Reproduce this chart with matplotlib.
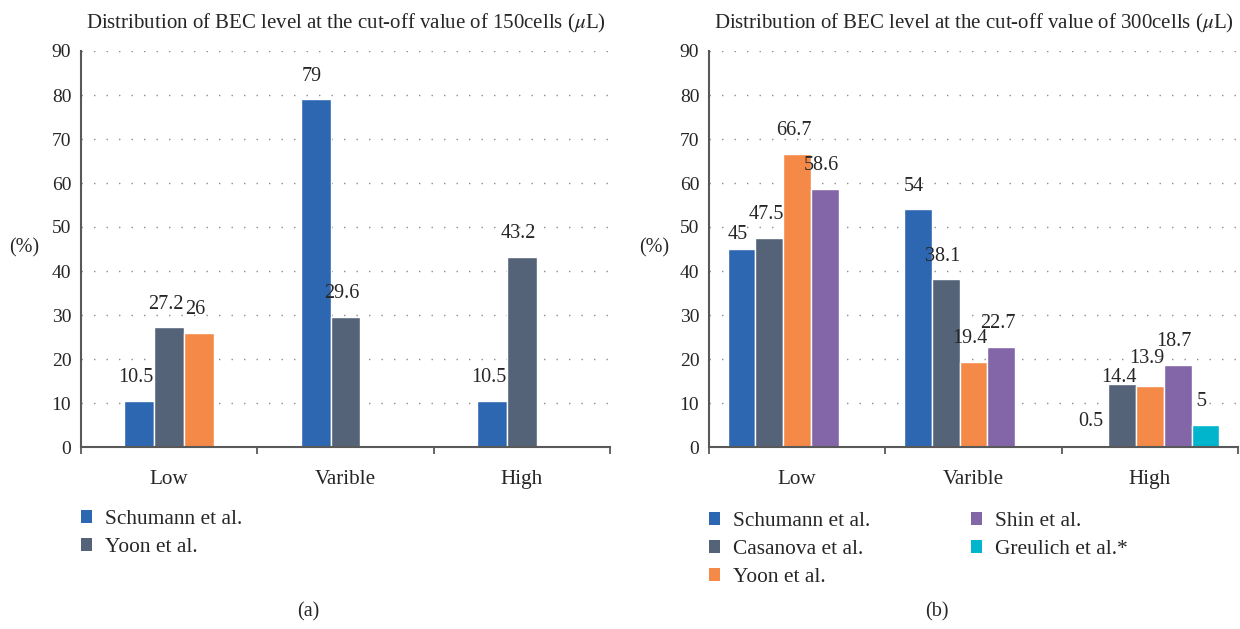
import matplotlib
matplotlib.use("Agg")
import matplotlib.pyplot as plt
from matplotlib.patches import Patch
import numpy as np

plt.rcParams['font.family'] = ['Liberation Serif', 'DejaVu Serif']
plt.rcParams['mathtext.fontset'] = 'stix'

# ---------------- data ----------------
categories = ["Low", "Varible", "High"]

left_title = "Distribution of BEC level at the cut-off value of 150cells ($\\mu$L)"
left_series = ["Schumann et al.", "Yoon et al.", "Other"]
left_values = [
    [10.5, 79, 10.5],
    [27.2, 29.6, 43.2],
    [26, None, None],
]
left_legend_count = 2

right_title = "Distribution of BEC level at the cut-off value of 300cells ($\\mu$L)"
right_series = ["Schumann et al.", "Casanova et al.", "Yoon et al.", "Shin et al.", "Greulich et al.*"]
right_values = [
    [45, 54, 0.5],
    [47.5, 38.1, 14.4],
    [66.7, 19.4, 13.9],
    [58.6, 22.7, 18.7],
    [None, None, 5],
]

colors = ["#2E67B1", "#556379", "#F58A48", "#8366A8", "#00B5CC"]
yticks = list(range(0, 91, 10))

# label nudges (style only): (series index, category index) -> extra vertical offset in points
left_nudge = {}
right_nudge = {(0, 0): -6, (1, 2): -12, (2, 2): 3}

# ---------------- figure ----------------
W, H = 1240, 629
fig = plt.figure(figsize=(W / 100, H / 100), dpi=100)
text_color = "#262626"
spine_color = "#595959"


def px_to_fig(x, y):
    return x / W, 1 - y / H


def draw(ax, series, values, width, title, legend_labels_n, legend_pos, ncol, colspacing, nudge):
    n = len(series)
    x = np.arange(len(categories))
    for i, (name, vals) in enumerate(zip(series, values)):
        off = (i - (n - 1) / 2) * width
        for j, v in enumerate(vals):
            if v is None:
                continue
            ax.bar(x[j] + off, v, width=width, color=colors[i],
                   edgecolor="white", linewidth=1.0, zorder=3)
            ax.annotate(f"{v:g}", xy=(x[j] + off, v),
                        xytext=(-2.5, 13.5 + nudge.get((i, j), 0)),
                        textcoords="offset points", ha="center", va="baseline",
                        fontsize=14.5, color=text_color, zorder=4)
    ax.set_xlim(-0.5, len(categories) - 0.5)
    ax.set_ylim(0, 90)
    ax.set_yticks(yticks)
    ax.set_yticklabels([str(t) for t in yticks], fontsize=14, color=text_color)
    ax.set_xticks(x)
    ax.set_xticklabels(categories, fontsize=15.2, color=text_color)
    ax.set_xticks(np.arange(len(categories) + 1) - 0.5, minor=True)
    ax.tick_params(axis="x", which="major", length=0, pad=16.5)
    ax.tick_params(axis="x", which="minor", length=5, width=1.3, color=spine_color, direction="out")
    ax.tick_params(axis="y", length=0, pad=7)
    for s in ["top", "right"]:
        ax.spines[s].set_visible(False)
    for s in ["left", "bottom"]:
        ax.spines[s].set_color(spine_color)
        ax.spines[s].set_linewidth(1.5)
        ax.spines[s].set_zorder(5)
    ax.yaxis.grid(True, linestyle=(0, (1, 8)), color="#8c8c8c", linewidth=1.0)
    ax.set_axisbelow(True)
    ax.set_title(title, fontsize=15, color=text_color, pad=16)
    handles = [Patch(facecolor=colors[i], edgecolor="none", label=series[i])
               for i in range(legend_labels_n)]
    ax.legend(handles=handles, loc="upper left",
              bbox_to_anchor=px_to_fig(*legend_pos), bbox_transform=fig.transFigure,
              frameon=False, borderaxespad=0, borderpad=0, ncol=ncol,
              fontsize=15.4, handlelength=0.52, handleheight=0.52,
              handletextpad=0.6, labelspacing=0.42, columnspacing=colspacing,
              labelcolor=text_color)


bottom = 1 - 447 / H
height = 396 / H
ax1 = fig.add_axes([81 / W, bottom, 529 / W, height])
ax2 = fig.add_axes([709 / W, bottom, 529 / W, height])

draw(ax1, left_series, left_values, 0.17, left_title, left_legend_count, (81, 510), 1, 2.0, left_nudge)
draw(ax2, right_series, right_values, 0.158, right_title, len(right_series), (709, 512), 2, 4.7, right_nudge)

for xp, txt in [(24, "(%)"), (654, "(%)")]:
    fx, fy = px_to_fig(xp, 248)
    fig.text(fx, fy, txt, ha="center", va="center", fontsize=14.5, color=text_color)

for xp, txt in [(308, "(a)"), (937, "(b)")]:
    fx, fy = px_to_fig(xp, 612)
    fig.text(fx, fy, txt, ha="center", va="center", fontsize=14.5, color=text_color)

fig.savefig("out.png", dpi=100)
